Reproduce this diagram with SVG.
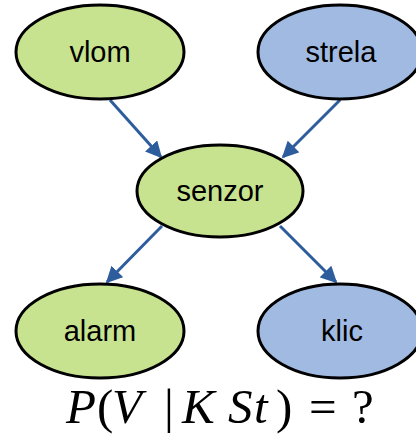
<svg xmlns="http://www.w3.org/2000/svg" width="416" height="434" viewBox="0 0 416 434">
<style>
.g{fill:#C8E38F;stroke:#000;stroke-width:3}
.b{fill:#A1BAE2;stroke:#000;stroke-width:3}
.t{font-family:"Liberation Sans",Arial,sans-serif;font-size:29px;fill:#000;text-anchor:middle}
.e{stroke:#2E5D9E;stroke-width:3;fill:none;marker-end:url(#ah)}
.m{font-family:"Liberation Serif","Times New Roman",serif;font-size:49px;fill:#000}
.i{font-style:italic}
</style>
<defs>
<marker id="ah" viewBox="0 0 10 10" refX="9" refY="5" markerWidth="5.5" markerHeight="5.5" orient="auto" markerUnits="strokeWidth">
<path d="M0,0 L10,5 L0,10 z" fill="#2E5D9E"/>
</marker>
</defs>
<g id="edges">
<line class="e" x1="110" y1="100" x2="161" y2="157"/>
<line class="e" x1="340" y1="100" x2="283" y2="157"/>
<line class="e" x1="162" y1="226" x2="107" y2="282"/>
<line class="e" x1="280" y1="226" x2="336" y2="282"/>
</g>
<g id="vlom"><ellipse class="g" cx="100" cy="52" rx="84" ry="47"/><text class="t" x="100" y="62">vlom</text></g>
<g id="strela"><ellipse class="b" cx="340" cy="52" rx="82" ry="47"/><text class="t" x="341" y="62">strela</text></g>
<g id="senzor"><ellipse class="g" cx="220" cy="191" rx="83" ry="46"/><text class="t" x="220" y="201">senzor</text></g>
<g id="alarm"><ellipse class="g" cx="100" cy="331" rx="84" ry="47"/><text class="t" x="100" y="341">alarm</text></g>
<g id="klic"><ellipse class="b" cx="340" cy="331" rx="82" ry="47"/><text class="t" x="342" y="341">klic</text></g>
<text class="m" y="423"><tspan class="i" x="66">P</tspan><tspan x="97">(</tspan><tspan class="i" x="112">V</tspan><tspan x="164">|</tspan><tspan class="i" x="182">K</tspan><tspan class="i" x="228">S</tspan><tspan class="i" x="254">t</tspan><tspan x="276">)</tspan><tspan x="309">=</tspan><tspan x="352">?</tspan></text>
</svg>
